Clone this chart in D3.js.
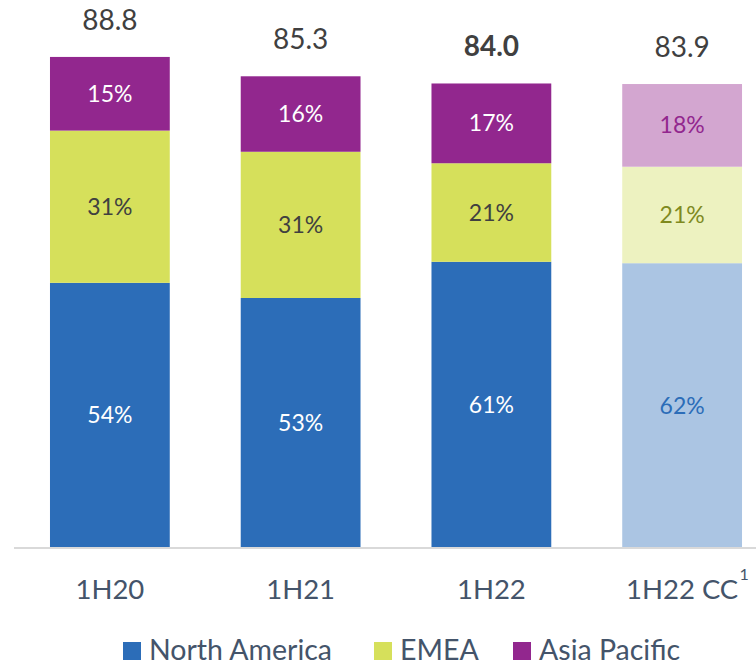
<!DOCTYPE html>
<html><head><meta charset="utf-8">
<script src="https://cdn.jsdelivr.net/npm/d3@7"></script>
<style>body{margin:0;background:#fff}svg{display:block}</style>
</head><body>
<svg id="c" width="756" height="667"></svg>
<script>
const categories = ["1H20", "1H21", "1H22", "1H22 CC"];
const superscripts = ["", "", "", "1"];
const totals = [88.8, 85.3, 84.0, 83.9];
const totalLabels = ["88.8", "85.3", "84.0", "83.9"];
const series = ["North America", "EMEA", "Asia Pacific"];
const northAmerica = [54, 53, 61, 62];
const emea = [31, 31, 21, 21];
const asiaPacific = [15, 16, 17, 18];

const font = "Lato, 'Open Sans', sans-serif";
const colors = ["#2c6db8", "#d6e05b", "#92278e"];
const lightColors = ["#abc5e3", "#edf2c0", "#d3a6d0"];
const lightText = ["#2c6db8", "#7f8a1f", "#92278e"];
const boldIdx = 2, lightIdx = 3;

const svg = d3.select("#c");
const x = d3.scaleBand().domain(categories).range([14.5, 777.5]).paddingInner(0.372).paddingOuter(0.186);
const y = d3.scaleLinear().domain([0, 100]).range([548, -5]);

const shares = [northAmerica, emea, asiaPacific];
categories.forEach((cat, i) => {
  const vals = shares.map(s => s[i]);
  const sum = d3.sum(vals);
  let cum = 0;
  vals.forEach((v, k) => {
    const y0 = y(totals[i] * cum / sum);
    cum += v;
    const y1 = y(totals[i] * cum / sum);
    const light = i === lightIdx;
    svg.append("rect").attr("x", x(cat)).attr("width", x.bandwidth())
      .attr("y", y1).attr("height", y0 - y1)
      .attr("fill", light ? lightColors[k] : colors[k]);
    svg.append("text").attr("x", x(cat) + x.bandwidth() / 2).attr("y", (y0 + y1) / 2)
      .attr("dy", "0.35em").attr("text-anchor", "middle")
      .attr("font-family", font).attr("font-size", 23)
      .attr("fill", light ? lightText[k] : (k === 1 ? "#404040" : "#ffffff"))
      .text(v + "%");
  });
  svg.append("text").attr("x", x(cat) + x.bandwidth() / 2).attr("y", y(totals[i]) - 37)
    .attr("dy", "0.35em").attr("text-anchor", "middle")
    .attr("font-family", font).attr("font-size", 28)
    .attr("font-weight", i === boldIdx ? "bold" : "normal")
    .attr("fill", "#404040").text(totalLabels[i]);
});

// axis
const axis = d3.axisBottom(x).tickSize(0).tickPadding(0);
const g = svg.append("g").attr("transform", "translate(0,548)").call(axis);
g.select(".domain").attr("d", "M14,0H756").attr("stroke", "#d9d9d9").attr("stroke-width", 2);
g.selectAll(".tick text").remove();
g.selectAll(".tick").each(function(d, i) {
  const t = d3.select(this).append("text").attr("y", 41).attr("dy", "0.35em")
    .attr("text-anchor", "middle").attr("font-family", font).attr("font-size", 27.5)
    .attr("fill", "#44546a").text(d);
  if (superscripts[i]) {
    const bb = t.node().getBBox();
    d3.select(this).append("text").attr("x", bb.x + bb.width + 6).attr("y", 32)
      .attr("font-family", font).attr("font-size", 16).attr("fill", "#44546a")
      .text(superscripts[i]);
  }
});

// legend
const legendX = [123, 374, 513];
series.forEach((s, k) => {
  svg.append("rect").attr("x", legendX[k]).attr("y", 642).attr("width", 18).attr("height", 18).attr("fill", colors[k]);
  svg.append("text").attr("x", legendX[k] + 26).attr("y", 650).attr("dy", "0.35em")
    .attr("font-family", font).attr("font-size", 28.5).attr("fill", "#44546a").text(s);
});
</script>
</body></html>
